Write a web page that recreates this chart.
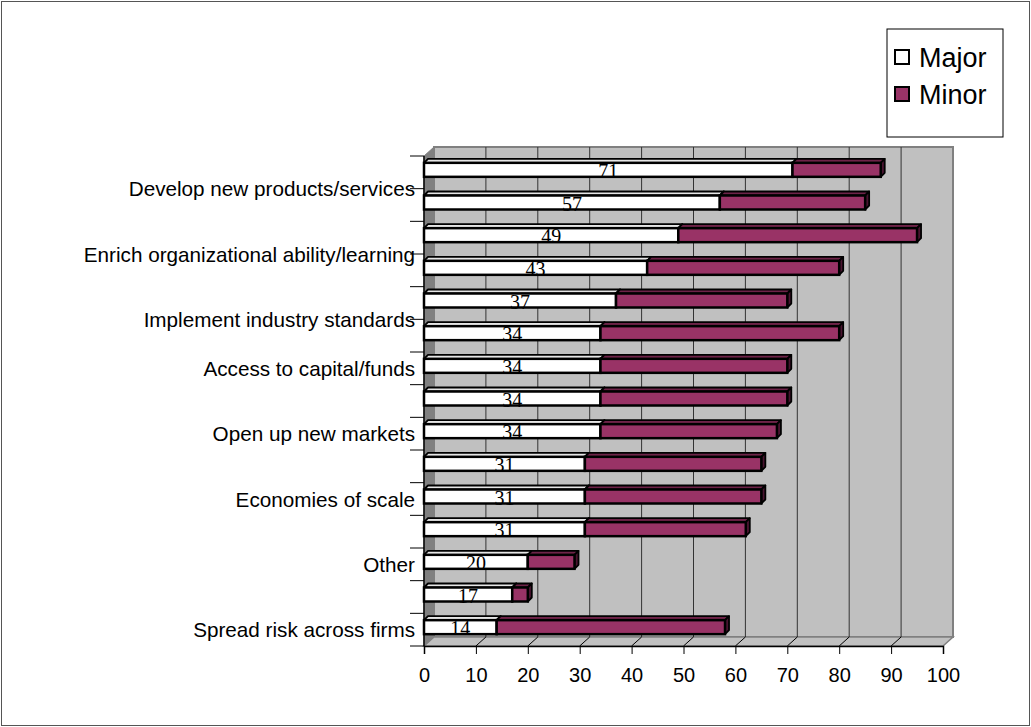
<!DOCTYPE html>
<html>
<head>
<meta charset="utf-8">
<script src="https://cdn.jsdelivr.net/npm/d3@7"></script>
<style>
  body { margin: 0; background: #fff; }
  svg text { font-family: "Liberation Sans", Arial, sans-serif; }
  .datalabel { font-family: "Liberation Serif", "Times New Roman", serif; }
</style>
</head>
<body>
<div id="container"></div>
<script>
// categories top to bottom (unlabelled ones are not named in the picture)
const categories = [
  "Develop new products/services",
  "",
  "Enrich organizational ability/learning",
  "",
  "Implement industry standards",
  "",
  "Access to capital/funds",
  "",
  "Open up new markets",
  "",
  "Economies of scale",
  "",
  "Other",
  "",
  "Spread risk across firms"
];
const major = [71, 57, 49, 43, 37, 34, 34, 34, 34, 31, 31, 31, 20, 17, 14];
const minor = [17, 28, 46, 37, 33, 46, 36, 36, 34, 34, 34, 31, 9, 3, 44];
const seriesNames = ["Major", "Minor"];
const xTicks = [0, 10, 20, 30, 40, 50, 60, 70, 80, 90, 100];

document.addEventListener("DOMContentLoaded", function () {
  const w = 1031;
  const h = 727;
  const plot = { left: 424, right: 943, top: 156, bottom: 646 };
  const depth = { dx: 10, dy: -9 };
  const bar = { h: 14, dx: 4, dy: -4, shift: -2.5 };
  const colors = ["#ffffff", "#993366"];
  const tops = ["#e6e6e6", "#6e2348"];
  const sides = ["#cccccc", "#4a1430"];

  const svg = d3
    .select("#container")
    .append("svg")
    .attr("width", w)
    .attr("height", h);

  svg
    .append("rect")
    .attr("x", 1.5)
    .attr("y", 1.5)
    .attr("width", w - 3)
    .attr("height", h - 3)
    .attr("fill", "none")
    .attr("stroke", "#555")
    .attr("stroke-width", 1);

  const xScale = d3
    .scaleLinear()
    .domain([0, 100])
    .range([plot.left, plot.right]);

  const yScale = d3
    .scaleBand()
    .domain(d3.range(categories.length))
    .range([plot.top, plot.bottom])
    .padding(0);

  // back wall
  svg
    .append("rect")
    .attr("x", plot.left + depth.dx)
    .attr("y", plot.top + depth.dy)
    .attr("width", plot.right - plot.left)
    .attr("height", plot.bottom - plot.top)
    .attr("fill", "#c0c0c0")
    .attr("stroke", "#808080")
    .attr("stroke-width", 2);

  // left wall
  svg
    .append("polygon")
    .attr(
      "points",
      [
        [plot.left, plot.top],
        [plot.left + depth.dx, plot.top + depth.dy],
        [plot.left + depth.dx, plot.bottom + depth.dy],
        [plot.left, plot.bottom]
      ].join(" ")
    )
    .attr("fill", "#808080")
    .attr("stroke", "#808080");

  // floor
  svg
    .append("polygon")
    .attr(
      "points",
      [
        [plot.left, plot.bottom],
        [plot.left + depth.dx, plot.bottom + depth.dy],
        [plot.right + depth.dx, plot.bottom + depth.dy],
        [plot.right, plot.bottom]
      ].join(" ")
    )
    .attr("fill", "#c0c0c0")
    .attr("stroke", "#808080")
    .attr("stroke-width", 1.5);

  // gridlines on wall and floor
  const grid = xTicks.filter((t) => t > 0 && t < 100);
  svg
    .append("g")
    .selectAll("line")
    .data(grid)
    .enter()
    .append("line")
    .attr("x1", (d) => xScale(d) + depth.dx)
    .attr("x2", (d) => xScale(d) + depth.dx)
    .attr("y1", plot.top + depth.dy)
    .attr("y2", plot.bottom + depth.dy)
    .attr("stroke", "#333")
    .attr("stroke-width", 1);

  svg
    .append("g")
    .selectAll("line")
    .data(grid)
    .enter()
    .append("line")
    .attr("x1", (d) => xScale(d))
    .attr("x2", (d) => xScale(d) + depth.dx)
    .attr("y1", plot.bottom)
    .attr("y2", plot.bottom + depth.dy)
    .attr("stroke", "#000")
    .attr("stroke-width", 1);

  // x axis
  const xAxis = d3
    .axisBottom(xScale)
    .tickValues(xTicks)
    .tickSize(8)
    .tickPadding(14);

  const gx = svg
    .append("g")
    .attr("transform", `translate(0,${plot.bottom})`)
    .call(xAxis);
  gx.select(".domain").attr("stroke", "#000").attr("stroke-width", 1.5);
  gx.selectAll(".tick line").attr("stroke", "#000");
  gx.selectAll(".tick text")
    .attr("fill", "#000")
    .style("font-size", "20px")
    .style("font-family", '"Liberation Sans", Arial, sans-serif');

  // y axis line and ticks at band boundaries
  svg
    .append("line")
    .attr("x1", plot.left)
    .attr("x2", plot.left)
    .attr("y1", plot.top)
    .attr("y2", plot.bottom)
    .attr("stroke", "#000")
    .attr("stroke-width", 1.5);

  const bounds = d3.range(categories.length + 1);
  svg
    .append("g")
    .selectAll("line")
    .data(bounds)
    .enter()
    .append("line")
    .attr("x1", plot.left - 14)
    .attr("x2", plot.left)
    .attr("y1", (d) => plot.top + d * yScale.bandwidth())
    .attr("y2", (d) => plot.top + d * yScale.bandwidth())
    .attr("stroke", "#000")
    .attr("stroke-width", 1);

  // category labels; the three long top labels sit at the lower edge of their band
  svg
    .append("g")
    .selectAll("text")
    .data(categories.map((c, i) => ({ c, i })).filter((d) => d.c !== ""))
    .enter()
    .append("text")
    .attr("x", plot.left - 9)
    .attr("y", (d) =>
      d.i < 6
        ? yScale(d.i) + yScale.bandwidth()
        : yScale(d.i) + yScale.bandwidth() / 2
    )
    .attr("text-anchor", "end")
    .attr("dominant-baseline", "central")
    .style("font-size", "20.7px")
    .attr("fill", "#000")
    .text((d) => d.c);

  // stacked 3d bars
  const rows = categories.map((c, i) => ({
    i,
    segs: [
      { s: 0, x0: 0, x1: major[i] },
      { s: 1, x0: major[i], x1: major[i] + minor[i] }
    ]
  }));

  const barG = svg.append("g");
  rows.forEach((r) => {
    const yTop = yScale(r.i) + yScale.bandwidth() / 2 + bar.shift - bar.h / 2;
    const yBot = yTop + bar.h;
    r.segs.forEach((s) => {
      const a = xScale(s.x0);
      const b = xScale(s.x1);
      const g = barG.append("g");
      g.append("polygon")
        .attr(
          "points",
          [
            [a, yTop],
            [a + bar.dx, yTop + bar.dy],
            [b + bar.dx, yTop + bar.dy],
            [b, yTop]
          ].join(" ")
        )
        .attr("fill", tops[s.s])
        .attr("stroke", "#000")
        .attr("stroke-width", 1.8)
        .attr("stroke-linejoin", "round");
      g.append("polygon")
        .attr(
          "points",
          [
            [b, yTop],
            [b + bar.dx, yTop + bar.dy],
            [b + bar.dx, yBot + bar.dy],
            [b, yBot]
          ].join(" ")
        )
        .attr("fill", sides[s.s])
        .attr("stroke", "#000")
        .attr("stroke-width", 1.8)
        .attr("stroke-linejoin", "round");
      g.append("rect")
        .attr("x", a)
        .attr("y", yTop)
        .attr("width", b - a)
        .attr("height", bar.h)
        .attr("fill", colors[s.s])
        .attr("stroke", "#000")
        .attr("stroke-width", 2.5);
    });
  });

  // data labels on the major segment
  svg
    .append("g")
    .selectAll("text")
    .data(major)
    .enter()
    .append("text")
    .attr("class", "datalabel")
    .attr("x", (d) => xScale(d / 2))
    .attr("y", (d, i) => yScale(i) + yScale.bandwidth() / 2 + bar.shift + bar.h / 2 + 1)
    .attr("text-anchor", "middle")
    .style("font-size", "20px")
    .attr("fill", "#000")
    .text((d) => d);

  // legend
  const legend = svg.append("g").attr("transform", "translate(887,29)");
  legend
    .append("rect")
    .attr("width", 116)
    .attr("height", 108)
    .attr("fill", "#fff")
    .attr("stroke", "#000")
    .attr("stroke-width", 1);

  const items = legend
    .selectAll("g.item")
    .data(seriesNames)
    .enter()
    .append("g")
    .attr("class", "item")
    .attr("transform", (d, i) => `translate(8,${28 + i * 37})`);

  items
    .append("rect")
    .attr("x", 0)
    .attr("y", -7)
    .attr("width", 14)
    .attr("height", 14)
    .attr("fill", (d, i) => colors[i])
    .attr("stroke", "#000")
    .attr("stroke-width", 2);

  items
    .append("text")
    .attr("x", 24)
    .attr("y", 1)
    .attr("dominant-baseline", "central")
    .style("font-size", "27px")
    .attr("fill", "#000")
    .text((d) => d);
});
</script>
</body>
</html>
